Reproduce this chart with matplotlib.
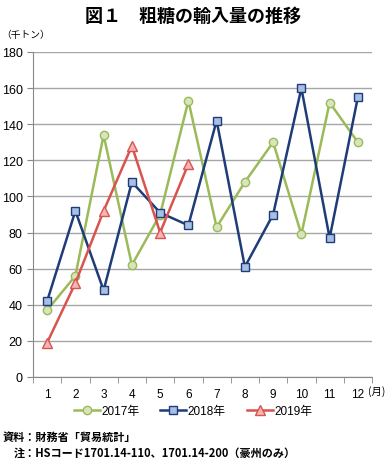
import matplotlib
matplotlib.use("Agg")
import matplotlib.pyplot as plt

plt.rcParams['font.family'] = ['Noto Sans CJK JP', 'DejaVu Sans']

# data (thousand tonnes)
months = [1, 2, 3, 4, 5, 6, 7, 8, 9, 10, 11, 12]
y2017 = [37, 56, 134, 62, 90, 153, 83, 108, 130, 79, 152, 130]
y2018 = [42, 92, 48, 108, 91, 84, 142, 61, 90, 160, 77, 155]
y2019 = [19, 52, 92, 128, 80, 118]
yticks = [0, 20, 40, 60, 80, 100, 120, 140, 160, 180]

W, H = 386, 464
fig = plt.figure(figsize=(W / 100, H / 100), dpi=100)
ax = fig.add_axes([33 / W, 1 - 378 / H, (372 - 33) / W, (378 - 53) / H])

ax.plot(months, y2017, color='#9BBB59', lw=1.8, marker='o', ms=6,
        mfc='#D7E4BD', mec='#9BBB59', mew=1, label='2017年', zorder=3)
ax.plot(months, y2018, color='#1F3C78', lw=1.8, marker='s', ms=6,
        mfc='#A7BFE4', mec='#1F3C78', mew=1, label='2018年', zorder=4)
ax.plot(months[:len(y2019)], y2019, color='#D9534F', lw=1.8, marker='^', ms=7,
        mfc='#F4B6B4', mec='#D9534F', mew=1, label='2019年', zorder=5)

ax.set_xlim(0.5, 12.5)
ax.set_ylim(0, 180)
ax.set_yticks(yticks)
ax.set_xticks(months)
ax.set_xticks([m + 0.5 for m in [0] + months], minor=True)
ax.tick_params(axis='x', which='major', length=0, labelsize=8.5, pad=8)
ax.tick_params(axis='x', which='minor', length=4, color='#888888')
ax.tick_params(axis='y', length=4, color='#888888', labelsize=9)
for lab in ax.get_xticklabels() + ax.get_yticklabels():
    lab.set_family(['Liberation Sans', 'Noto Sans CJK JP'])
ax.grid(axis='y', color='#A6A6A6', lw=1)
ax.set_axisbelow(True)
for s in ['top', 'right']:
    ax.spines[s].set_visible(False)
ax.spines['left'].set_color('#888888')
ax.spines['bottom'].set_color('#888888')

fig.text(0.5, 1 - 16 / H, '図１　粗糖の輸入量の推移', ha='center', va='center',
         fontsize=13, fontweight='bold')
fig.text(1 / W, 1 - 35 / H, '（千トン）', ha='left', va='center', fontsize=7)
fig.text(385 / W, 1 - 392 / H, '(月)', ha='right', va='center', fontsize=7.5)

fig.legend(loc='center', bbox_to_anchor=(0.5, 1 - 412 / H), ncol=3, frameon=False,
           handlelength=2.2, columnspacing=1.8, handletextpad=0.1,
           prop={'family': ['Liberation Sans', 'Noto Sans CJK JP'], 'size': 8.5})

fig.text(3 / W, 1 - 437 / H, '資料：財務省「貿易統計」', ha='left', va='center',
         fontsize=8, fontweight='bold')
fig.text(14 / W, 1 - 453 / H, '注：HSコード1701.14-110、1701.14-200（豪州のみ）',
         ha='left', va='center', fontsize=8, fontweight='bold')

fig.savefig('out.png', dpi=100)
